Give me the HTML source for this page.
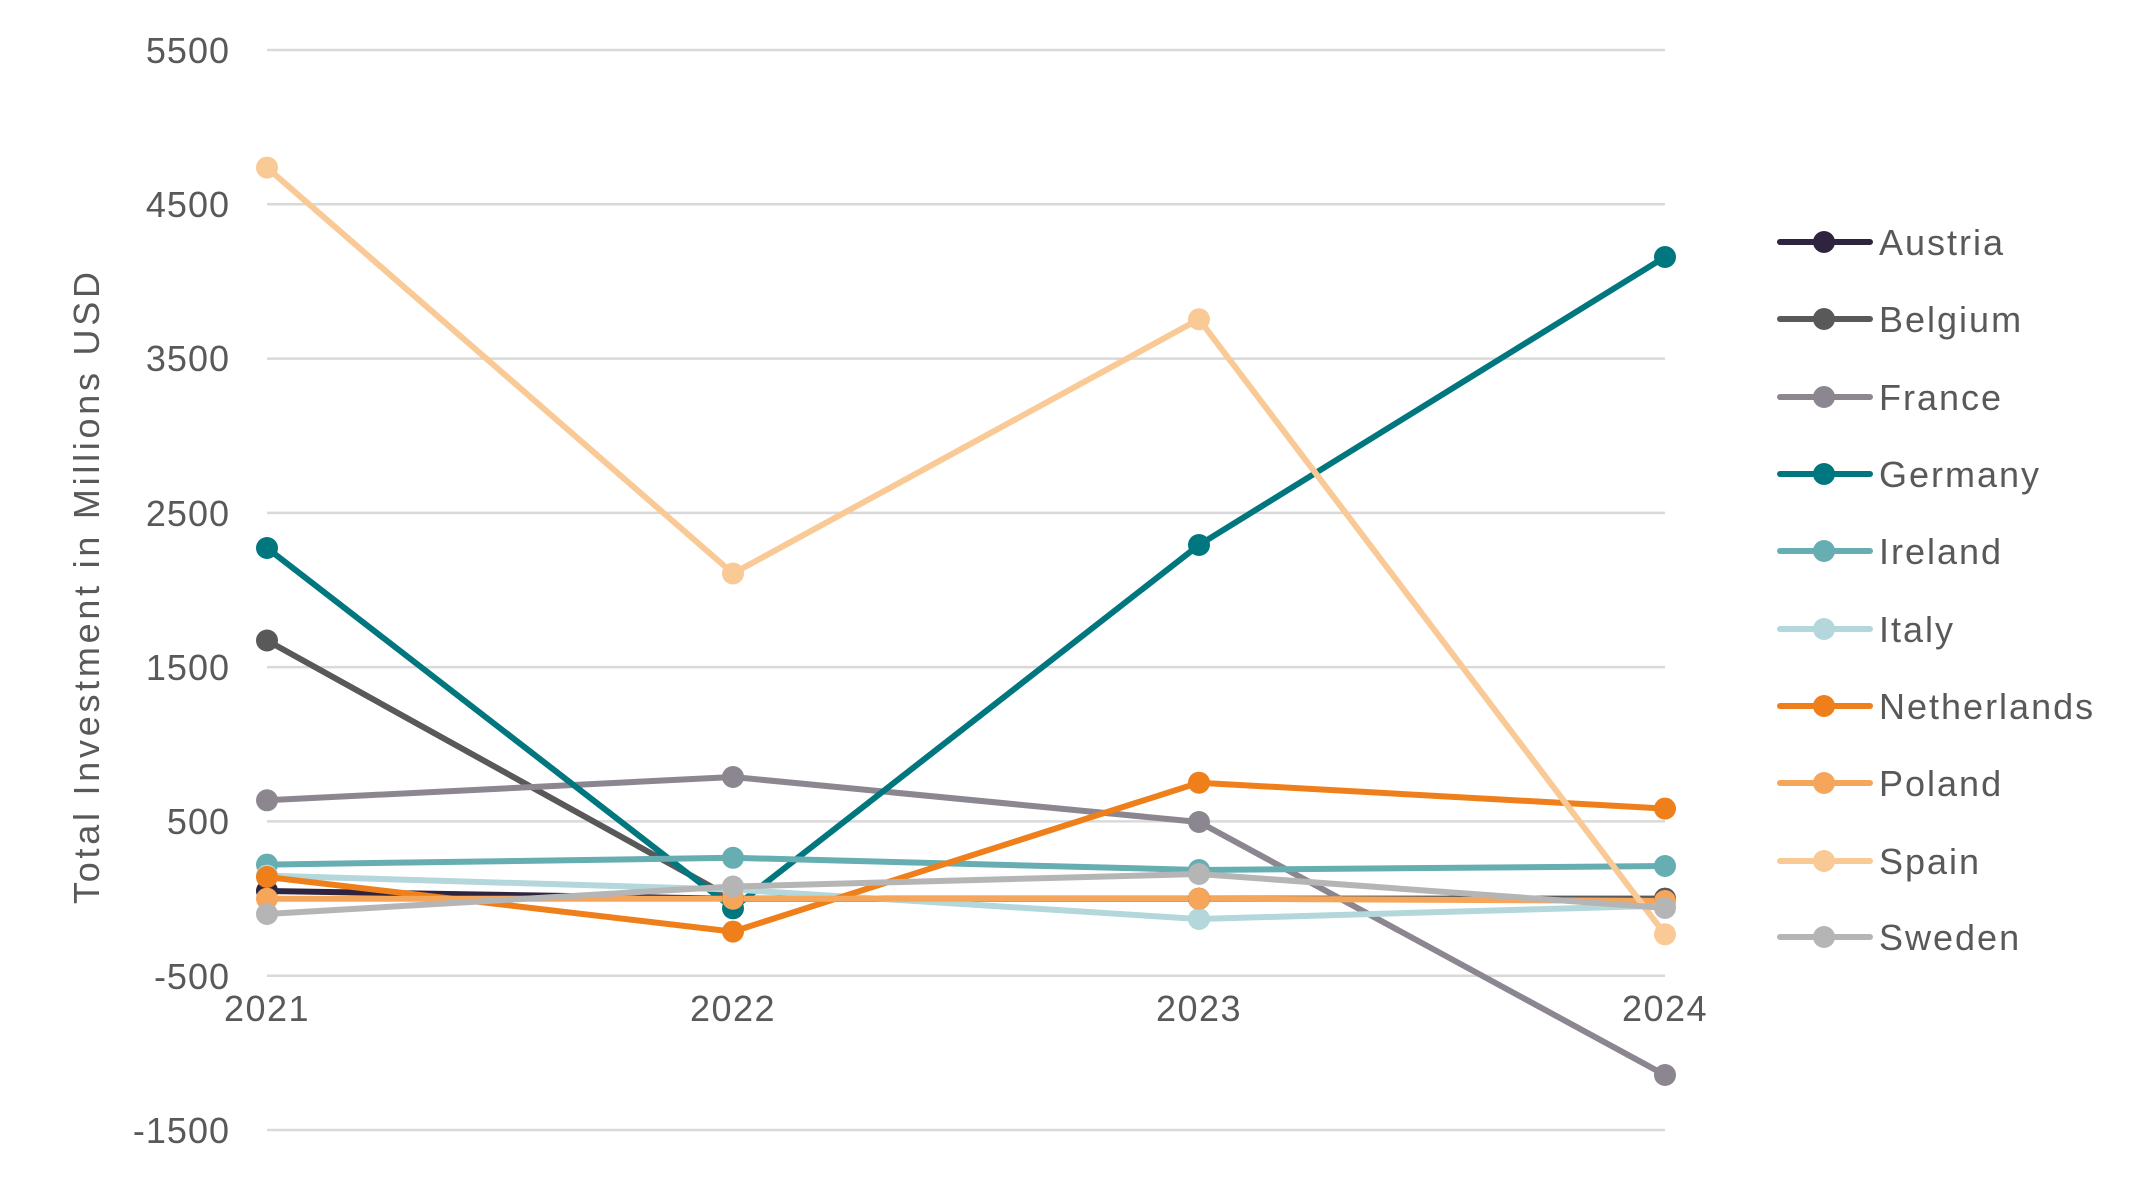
<!DOCTYPE html>
<html><head><meta charset="utf-8"><style>
html,body{margin:0;padding:0;background:#fff;}
svg{display:block;font-family:"Liberation Sans",sans-serif;}
</style></head><body>
<svg width="2145" height="1181" viewBox="0 0 2145 1181" xmlns="http://www.w3.org/2000/svg">
<g stroke="#d9d9d9" stroke-width="2.5">
<line x1="267" x2="1665" y1="50" y2="50"/>
<line x1="267" x2="1665" y1="204.3" y2="204.3"/>
<line x1="267" x2="1665" y1="358.6" y2="358.6"/>
<line x1="267" x2="1665" y1="512.9" y2="512.9"/>
<line x1="267" x2="1665" y1="667.1" y2="667.1"/>
<line x1="267" x2="1665" y1="821.4" y2="821.4"/>
<line x1="267" x2="1665" y1="975.7" y2="975.7"/>
<line x1="267" x2="1665" y1="1130" y2="1130"/>
</g>
<g fill="#595959" font-size="36" text-anchor="end" letter-spacing="1">
<text x="230" y="63">5500</text>
<text x="230" y="217">4500</text>
<text x="230" y="371">3500</text>
<text x="230" y="526">2500</text>
<text x="230" y="680">1500</text>
<text x="230" y="834">500</text>
<text x="230" y="989">-500</text>
<text x="230" y="1143">-1500</text>
</g>
<g fill="#595959" font-size="36" text-anchor="middle" letter-spacing="1.5">
<text x="267" y="1021">2021</text>
<text x="733" y="1021">2022</text>
<text x="1199" y="1021">2023</text>
<text x="1665" y="1021">2024</text>
</g>
<text transform="translate(99,588) rotate(-90)" fill="#595959" font-size="36" text-anchor="middle" textLength="632" lengthAdjust="spacing">Total Investment in Millions USD</text>
<g fill="none" stroke-width="6" stroke-linejoin="round" stroke-linecap="round">
<polyline stroke="#2e2440" points="267,891 733,898.7 1199,898.7 1665,898.7"/>
<polyline stroke="#595959" points="267,640.5 733,898.7 1199,898.7 1665,898.7"/>
<polyline stroke="#8b8690" points="267,800.3 733,777 1199,822 1665,1075"/>
<polyline stroke="#00777e" points="267,548 733,908.3 1199,545 1665,257"/>
<polyline stroke="#66aeb1" points="267,864.6 733,857.8 1199,870 1665,866"/>
<polyline stroke="#b3d7da" points="267,875.6 733,889.5 1199,919 1665,905.6"/>
<polyline stroke="#ee7f1a" points="267,877 733,931.6 1199,782.7 1665,808.6"/>
<polyline stroke="#f5a65b" points="267,898.7 733,898.7 1199,898.7 1665,901"/>
<polyline stroke="#f9c996" points="267,167.6 733,573.5 1199,319.3 1665,934.3"/>
<polyline stroke="#b5b5b5" points="267,914 733,886.5 1199,874 1665,908"/>
</g>
<g>
<g fill="#2e2440"><circle cx="267" cy="891" r="11"/><circle cx="733" cy="898.7" r="11"/><circle cx="1199" cy="898.7" r="11"/><circle cx="1665" cy="898.7" r="11"/></g>
<g fill="#595959"><circle cx="267" cy="640.5" r="11"/><circle cx="733" cy="898.7" r="11"/><circle cx="1199" cy="898.7" r="11"/><circle cx="1665" cy="898.7" r="11"/></g>
<g fill="#8b8690"><circle cx="267" cy="800.3" r="11"/><circle cx="733" cy="777" r="11"/><circle cx="1199" cy="822" r="11"/><circle cx="1665" cy="1075" r="11"/></g>
<g fill="#00777e"><circle cx="267" cy="548" r="11"/><circle cx="733" cy="908.3" r="11"/><circle cx="1199" cy="545" r="11"/><circle cx="1665" cy="257" r="11"/></g>
<g fill="#66aeb1"><circle cx="267" cy="864.6" r="11"/><circle cx="733" cy="857.8" r="11"/><circle cx="1199" cy="870" r="11"/><circle cx="1665" cy="866" r="11"/></g>
<g fill="#b3d7da"><circle cx="267" cy="875.6" r="11"/><circle cx="733" cy="889.5" r="11"/><circle cx="1199" cy="919" r="11"/><circle cx="1665" cy="905.6" r="11"/></g>
<g fill="#ee7f1a"><circle cx="267" cy="877" r="11"/><circle cx="733" cy="931.6" r="11"/><circle cx="1199" cy="782.7" r="11"/><circle cx="1665" cy="808.6" r="11"/></g>
<g fill="#f5a65b"><circle cx="267" cy="898.7" r="11"/><circle cx="733" cy="898.7" r="11"/><circle cx="1199" cy="898.7" r="11"/><circle cx="1665" cy="901" r="11"/></g>
<g fill="#f9c996"><circle cx="267" cy="167.6" r="11"/><circle cx="733" cy="573.5" r="11"/><circle cx="1199" cy="319.3" r="11"/><circle cx="1665" cy="934.3" r="11"/></g>
<g fill="#b5b5b5"><circle cx="267" cy="914" r="11"/><circle cx="733" cy="886.5" r="11"/><circle cx="1199" cy="874" r="11"/><circle cx="1665" cy="908" r="11"/></g>
</g>
<g stroke-width="6" stroke-linecap="round">
<line x1="1780" x2="1870" y1="242" y2="242" stroke="#2e2440"/><circle cx="1824" cy="242" r="11" fill="#2e2440"/>
<line x1="1780" x2="1870" y1="319" y2="319" stroke="#595959"/><circle cx="1824" cy="319" r="11" fill="#595959"/>
<line x1="1780" x2="1870" y1="397" y2="397" stroke="#8b8690"/><circle cx="1824" cy="397" r="11" fill="#8b8690"/>
<line x1="1780" x2="1870" y1="474" y2="474" stroke="#00777e"/><circle cx="1824" cy="474" r="11" fill="#00777e"/>
<line x1="1780" x2="1870" y1="551" y2="551" stroke="#66aeb1"/><circle cx="1824" cy="551" r="11" fill="#66aeb1"/>
<line x1="1780" x2="1870" y1="629" y2="629" stroke="#b3d7da"/><circle cx="1824" cy="629" r="11" fill="#b3d7da"/>
<line x1="1780" x2="1870" y1="706" y2="706" stroke="#ee7f1a"/><circle cx="1824" cy="706" r="11" fill="#ee7f1a"/>
<line x1="1780" x2="1870" y1="783" y2="783" stroke="#f5a65b"/><circle cx="1824" cy="783" r="11" fill="#f5a65b"/>
<line x1="1780" x2="1870" y1="861" y2="861" stroke="#f9c996"/><circle cx="1824" cy="861" r="11" fill="#f9c996"/>
<line x1="1780" x2="1870" y1="937" y2="937" stroke="#b5b5b5"/><circle cx="1824" cy="937" r="11" fill="#b5b5b5"/>
</g>
<g fill="#595959" font-size="36" letter-spacing="2">
<text x="1879" y="255">Austria</text>
<text x="1879" y="332">Belgium</text>
<text x="1879" y="410">France</text>
<text x="1879" y="487">Germany</text>
<text x="1879" y="564">Ireland</text>
<text x="1879" y="642">Italy</text>
<text x="1879" y="719">Netherlands</text>
<text x="1879" y="796">Poland</text>
<text x="1879" y="874">Spain</text>
<text x="1879" y="950">Sweden</text>
</g>
</svg>
</body></html>
